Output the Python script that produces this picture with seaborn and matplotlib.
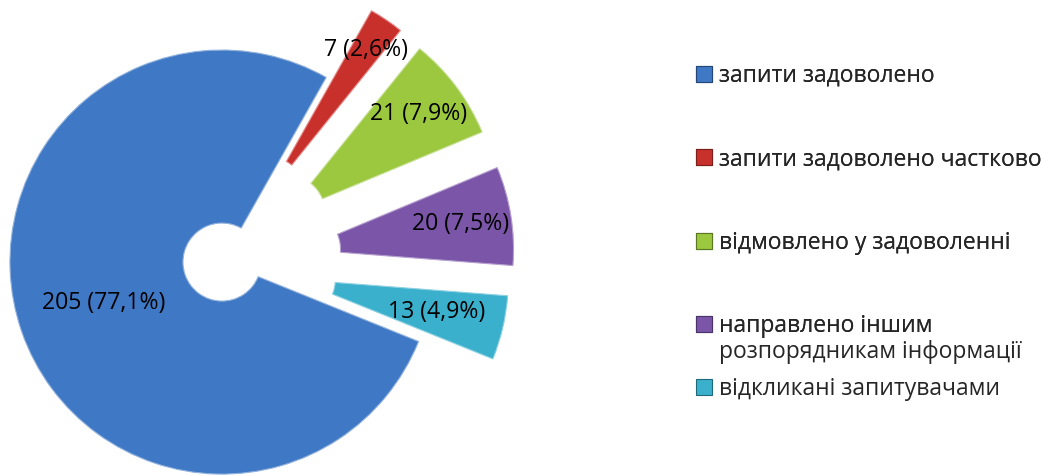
"""Exploded doughnut: handling of information requests."""

import numpy as np
import matplotlib
matplotlib.use("Agg")
import matplotlib.pyplot as plt
from matplotlib.patches import Patch
import seaborn as sns

CATEGORIES = [
    "запити задоволено",
    "запити задоволено частково",
    "відмовлено у задоволенні",
    "направлено іншим",
    "відкликані запитувачами",
]
CATEGORY_CONT = "розпорядникам інформації"  # second line of the 4th entry
COUNTS = [205, 7, 21, 20, 13]
EXPLODE = [0.0, 0.38, 0.38, 0.38, 0.36]
LABEL_DIST = [0.59, 0.83, 0.78, 0.76, 0.68]
COLORS = ["#3F78C4", "#C8302C", "#9BC83E", "#7B55A8", "#3AB0CC"]

sns.set_theme(style="white")
plt.rcParams["font.family"] = ["Open Sans", "DejaVu Sans"]

fig = plt.figure(figsize=(10.42, 4.76), dpi=100)
ax = fig.add_axes([0, 0, 540 / 1042, 1])

total = sum(COUNTS)
wedges, _ = ax.pie(
    COUNTS, colors=COLORS, explode=EXPLODE, startangle=-22, counterclock=False,
    radius=1.0, wedgeprops=dict(width=0.816, linewidth=0.8),
)
for w, col in zip(wedges, COLORS):
    w.set_edgecolor(sns.set_hls_values(col, l=0.72))

for w, n, d in zip(wedges, COUNTS, LABEL_DIST):
    mid = np.deg2rad((w.theta1 + w.theta2) / 2)
    cx, cy = w.center
    pct = f"{100 * n / total:.1f}".replace(".", ",")
    ax.text(cx + d * np.cos(mid), cy + d * np.sin(mid), f"{n} ({pct}%)",
            ha="center", va="center", fontsize=16.6, color="black")

ax.set_xlim(-1.047, 1.5)
ax.set_ylim(-1.009, 1.236)
ax.set_aspect("auto")
ax.axis("off")

handles = [Patch(facecolor=c, edgecolor=sns.set_hls_values(c, l=0.3), linewidth=0.8)
           for c in COLORS]
common = dict(loc="upper left", frameon=False, fontsize=16.5, handlelength=0.7,
              handleheight=0.7, handletextpad=0.3, borderpad=0, borderaxespad=0)

leg1 = fig.legend(handles[:4], CATEGORIES[:4], bbox_to_anchor=(696 / 1042, 1 - 64 / 476),
                  labelspacing=2.59, **common)
blank = Patch(facecolor="none", edgecolor="none")
leg2 = fig.legend([blank, handles[4]], [CATEGORY_CONT, CATEGORIES[4]],
                  bbox_to_anchor=(696 / 1042, 1 - 340 / 476), labelspacing=0.55, **common)
fig.add_artist(leg1)

fig.savefig("out.png", dpi=100)
